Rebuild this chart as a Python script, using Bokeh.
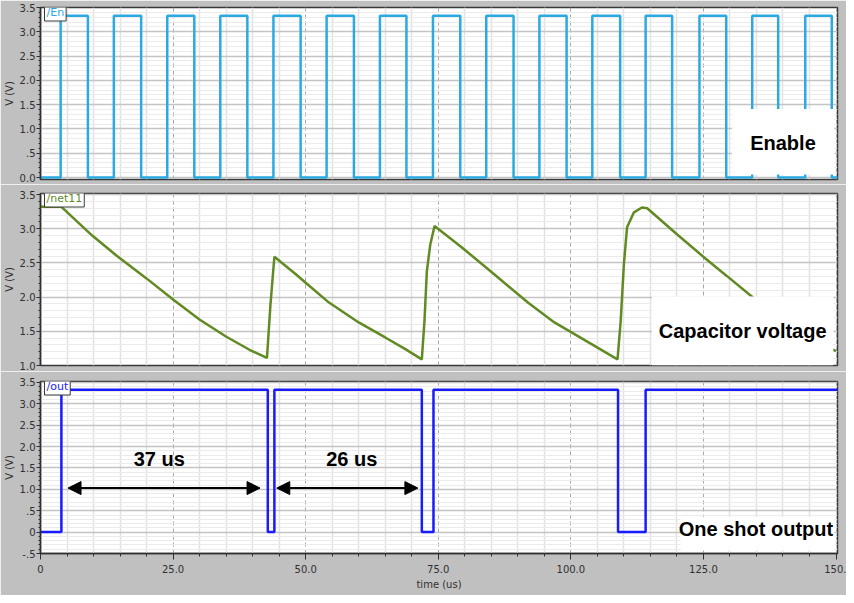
from bokeh.plotting import figure
from bokeh.layouts import column
from bokeh.models import Range1d, FixedTicker, Label, BoxAnnotation, Arrow, NormalHead
from bokeh.embed import file_html
from bokeh.resources import INLINE

# ---------------- data ----------------
# /En : square wave edges (us), high / low level (V)
EN_RISE = [3.80, 13.83, 23.90, 33.90, 43.92, 53.95, 64.0, 74.0, 84.05, 94.07,
           104.05, 114.1, 124.25, 134.2, 144.2]
EN_FALL = [8.94, 18.98, 29.0, 39.0, 49.05, 59.1, 69.0, 79.15, 89.2, 99.2,
           109.3, 119.1, 129.3, 139.1, 149.2]
EN_HIGH = 3.33
EN_LOW = 0.0

# /net11 : capacitor voltage (us, V)
CAP_T = [0.0, 3.94, 9.75, 14.43, 20.05, 25.06, 30.04, 35.05, 39.4, 42.7,
         43.35, 44.1, 48.2, 50.0, 54.4, 60.0, 65.0, 68.8, 71.9,
         72.4, 72.85, 73.5, 74.3, 79.4, 85.6, 91.9, 96.9, 103.1, 108.8,
         109.4, 110.0, 110.6, 111.9, 113.4, 114.4, 120.0, 125.6, 129.4,
         134.4, 140.0, 145.0, 150.0]
CAP_V = [3.32, 3.32, 2.90, 2.60, 2.27, 1.96, 1.67, 1.42, 1.23, 1.11,
         1.88, 2.59, 2.33, 2.21, 1.92, 1.63, 1.41, 1.24, 1.09,
         1.65, 2.38, 2.77, 3.04, 2.73, 2.33, 1.92, 1.63, 1.35, 1.09,
         1.65, 2.48, 3.02, 3.24, 3.31, 3.30, 2.92, 2.55, 2.31,
         1.99, 1.67, 1.40, 1.21]

# /out : one-shot output edges (us), levels (V)
OUT_RISE = [3.94, 44.1, 74.1, 114.1]
OUT_FALL = [42.86, 71.9, 108.9]
OUT_HIGH = 3.33
OUT_LOW = 0.0

T_START = 0.0
T_END = 150.3

# measured intervals shown with arrows
ARROW_T0 = [5.19, 44.55]
ARROW_T1 = [41.4, 71.16]
ARROW_V = 1.03
ARROW_TEXT = ["37 us", "26 us"]
ARROW_TEXT_T = [22.4, 58.7]
ARROW_TEXT_V = 1.72

# axes ticks / labels
X_TICKS = [0, 25, 50, 75, 100, 125, 150]
X_LABELS = ["0", "25.0", "50.0", "75.0", "100.0", "125.0", "150."]
X_MINOR = [5, 10, 15, 20, 30, 35, 40, 45, 55, 60, 65, 70, 80, 85, 90, 95,
           105, 110, 115, 120, 130, 135, 140, 145]

Y1_TICKS = [0.0, 0.5, 1.0, 1.5, 2.0, 2.5, 3.0, 3.5]
Y1_LABELS = ["0.0", ".5", "1.0", "1.5", "2.0", "2.5", "3.0", "3.5"]
Y2_TICKS = [1.0, 1.5, 2.0, 2.5, 3.0, 3.5]
Y2_LABELS = ["1.0", "1.5", "2.0", "2.5", "3.0", "3.5"]
Y3_TICKS = [-0.5, 0.0, 0.5, 1.0, 1.5, 2.0, 2.5, 3.0, 3.5]
Y3_LABELS = ["-.5", "0", ".5", "1.0", "1.5", "2.0", "2.5", "3.0", "3.5"]

# ---------------- style ----------------
BG = "#c0c0c0"
EN_COLOR = "#2baae2"
CAP_COLOR = "#628a22"
OUT_COLOR = "#1a1aff"
AXIS_COLOR = "#303030"
TICK_FONT = "DejaVu Sans"
BIG_FONT = "Liberation Sans"


def steps(rises, falls, lo, hi, t0, t1):
    edges = sorted([(t, hi) for t in rises] + [(t, lo) for t in falls])
    xs, ys = [t0], [lo]
    level = lo
    for t, new in edges:
        xs += [t, t]
        ys += [level, new]
        level = new
    xs.append(t1)
    ys.append(level)
    return xs, ys


def minor_list(ticks, step):
    lo, hi = min(ticks), max(ticks)
    out = []
    n = int(round((hi - lo) / step))
    for i in range(n + 1):
        v = round(lo + i * step, 3)
        if all(abs(v - t) > 1e-6 for t in ticks):
            out.append(v)
    return out


x_range = Range1d(0, 150.28)


def make_fig(height, y0, y1, top, bottom, yticks, ylabels, with_x):
    p = figure(width=846, height=height, x_range=x_range, y_range=Range1d(y0, y1),
               output_backend="svg", toolbar_location=None, tools="",
               x_axis_location="below" if with_x else None,
               min_border_left=35, min_border_right=9,
               min_border_top=top, min_border_bottom=bottom,
               background_fill_color="white", border_fill_color=BG,
               outline_line_color="#383838", outline_line_width=1.5)
    ymin = minor_list(yticks, 0.1)
    p.yaxis.ticker = FixedTicker(ticks=yticks, minor_ticks=ymin)
    p.yaxis.major_label_overrides = {t: l for t, l in zip(yticks, ylabels)}
    p.yaxis.axis_label = "V (V)"
    p.yaxis.axis_label_text_font = TICK_FONT
    p.yaxis.axis_label_text_font_size = "10px"
    p.yaxis.axis_label_text_font_style = "normal"
    p.yaxis.axis_label_text_color = AXIS_COLOR
    p.yaxis.axis_label_standoff = 2
    p.yaxis.major_label_text_font = TICK_FONT
    p.yaxis.major_label_text_font_size = "10px"
    p.yaxis.major_label_text_color = AXIS_COLOR
    p.yaxis.major_label_standoff = 1
    p.yaxis.major_tick_out = 4
    p.yaxis.major_tick_in = 0
    p.yaxis.minor_tick_out = 2
    p.yaxis.minor_tick_in = 0
    p.yaxis.axis_line_color = AXIS_COLOR
    p.yaxis.axis_line_width = 1.5
    p.yaxis.major_tick_line_color = AXIS_COLOR
    p.yaxis.minor_tick_line_color = AXIS_COLOR

    p.xgrid.ticker = FixedTicker(ticks=X_TICKS, minor_ticks=X_MINOR)
    p.xgrid.grid_line_color = "#a8a8a8"
    p.xgrid.grid_line_dash = "4 3"
    p.xgrid.grid_line_width = 1
    p.xgrid.minor_grid_line_color = "#e2e2e2"
    p.xgrid.minor_grid_line_width = 1.5
    p.ygrid.ticker = FixedTicker(ticks=yticks, minor_ticks=ymin)
    p.ygrid.grid_line_color = "#c4c4c4"
    p.ygrid.grid_line_width = 1.5
    p.ygrid.minor_grid_line_color = "#ebebeb"
    p.ygrid.minor_grid_line_width = 1

    if with_x:
        p.xaxis.ticker = FixedTicker(ticks=X_TICKS, minor_ticks=X_MINOR)
        p.xaxis.major_label_overrides = {t: l for t, l in zip(X_TICKS, X_LABELS)}
        p.xaxis.axis_label = "time (us)"
        p.xaxis.axis_label_text_font = TICK_FONT
        p.xaxis.axis_label_text_font_size = "10px"
        p.xaxis.axis_label_text_font_style = "normal"
        p.xaxis.axis_label_text_color = AXIS_COLOR
        p.xaxis.axis_label_standoff = 3
        p.xaxis.major_label_text_font = TICK_FONT
        p.xaxis.major_label_text_font_size = "10px"
        p.xaxis.major_label_text_color = AXIS_COLOR
        p.xaxis.major_label_standoff = 5
        p.xaxis.major_tick_out = 6
        p.xaxis.major_tick_in = 0
        p.xaxis.minor_tick_out = 3
        p.xaxis.minor_tick_in = 0
        p.xaxis.axis_line_color = AXIS_COLOR
        p.xaxis.axis_line_width = 1.5
        p.xaxis.major_tick_line_color = AXIS_COLOR
        p.xaxis.minor_tick_line_color = AXIS_COLOR
    return p


def tab(p, name, color, ytop):
    p.add_layout(Label(x=0, y=ytop, x_units="data", y_units="data", text=name,
                       x_offset=4, y_offset=-5, text_align="left",
                       text_baseline="alphabetic",
                       text_font=TICK_FONT, text_font_size="11px", text_color=color,
                       background_fill_color="white", border_line_color="#383838",
                       border_line_width=1, padding=2))


def big_label(p, x, y, text):
    p.add_layout(Label(x=x, y=y, text=text, text_align="center", text_baseline="middle",
                       text_font=BIG_FONT, text_font_size="20px", text_font_style="bold",
                       text_color="black"))


# ---- panel 1 : /En ----
p1 = make_fig(184, -0.041, 3.5, 7, 5, Y1_TICKS, Y1_LABELS, False)
ex, ey = steps(EN_RISE, EN_FALL, EN_LOW, EN_HIGH, T_START, T_END)
p1.line(ex, ey, line_color=EN_COLOR, line_width=2.5)
p1.add_layout(BoxAnnotation(left=130.4, right=149.7, top=1.41, bottom=0.06,
                            fill_color="white", fill_alpha=1, line_color=None))
big_label(p1, 140.0, 0.72, "Enable")
tab(p1, "/En", EN_COLOR, 3.5)

# ---- panel 2 : /net11 ----
p2 = make_fig(187, 1.0, 3.515, 9, 6, Y2_TICKS, Y2_LABELS, False)
p2.line(CAP_T, CAP_V, line_color=CAP_COLOR, line_width=2.5)
p2.add_layout(BoxAnnotation(left=115.3, right=149.5, top=2.01, bottom=1.0,
                            fill_color="white", fill_alpha=1, line_color=None))
big_label(p2, 132.4, 1.51, "Capacitor voltage")
tab(p2, "/net11", CAP_COLOR, 3.515)

# ---- panel 3 : /out ----
p3 = make_fig(224, -0.5, 3.523, 10, 42, Y3_TICKS, Y3_LABELS, True)
ox, oy = steps(OUT_RISE, OUT_FALL, OUT_LOW, OUT_HIGH, T_START, T_END)
p3.line(ox, oy, line_color=OUT_COLOR, line_width=2.5)
for a0, a1 in zip(ARROW_T0, ARROW_T1):
    p3.add_layout(Arrow(x_start=a0, y_start=ARROW_V, x_end=a1, y_end=ARROW_V,
                        line_color="black", line_width=2,
                        start=NormalHead(size=13, fill_color="black", line_color="black"),
                        end=NormalHead(size=13, fill_color="black", line_color="black")))
for tx, tt in zip(ARROW_TEXT_T, ARROW_TEXT):
    big_label(p3, tx, ARROW_TEXT_V, tt)
p3.add_layout(BoxAnnotation(left=120.7, right=149.7, top=0.36, bottom=-0.43,
                            fill_color="white", fill_alpha=1, line_color=None))
big_label(p3, 134.9, 0.08, "One shot output")
tab(p3, "/out", OUT_COLOR, 3.523)

layout = column(p1, p2, p3, spacing=0)
open("out.html", "w").write(file_html(layout, INLINE))
